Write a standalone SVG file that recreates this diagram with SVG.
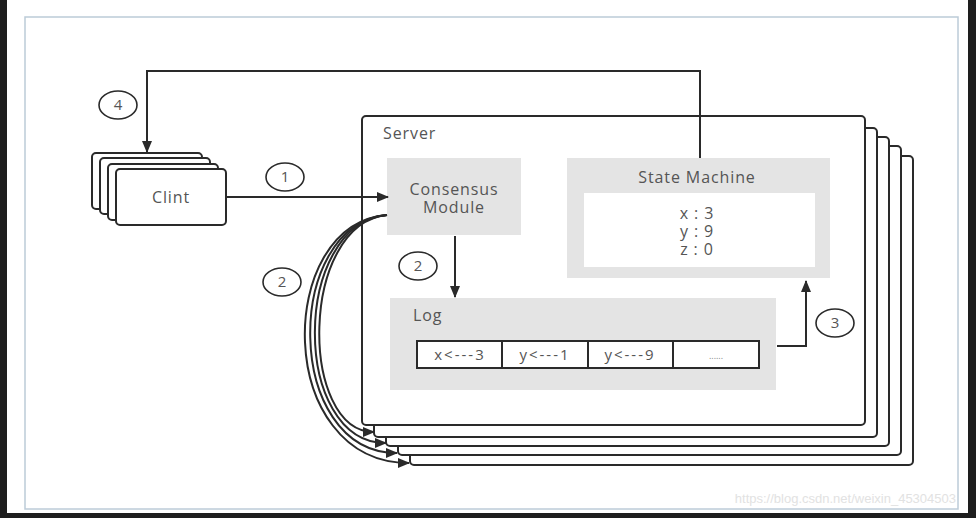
<svg xmlns="http://www.w3.org/2000/svg" width="976" height="518" viewBox="0 0 976 518">
<style>
.ln{fill:none;stroke:#2a2a2a;stroke-width:2}
.box{fill:#fff;stroke:#2a2a2a;stroke-width:2}
.gray{fill:#e4e4e4}
.t{font-family:"Open Sans","Noto Sans","Liberation Sans",sans-serif;font-size:16px;letter-spacing:0.9px;fill:#555}
.c{text-anchor:middle}
.cell{font-family:"Open Sans","Noto Sans","Liberation Sans",sans-serif;font-size:15px;letter-spacing:2px;fill:#555;text-anchor:middle}
.num{font-family:"Open Sans","Noto Sans","Liberation Sans",sans-serif;font-size:15px;fill:#555;text-anchor:middle}
.circ{fill:#fff;stroke:#2a2a2a;stroke-width:1.6}
</style>
<defs>
<marker id="ah" viewBox="0 0 12 10" refX="11" refY="5" markerWidth="12" markerHeight="10" markerUnits="userSpaceOnUse" orient="auto">
<path d="M0,0 L12,5 L0,10 Z" fill="#2a2a2a"/>
</marker>
</defs>
<rect width="976" height="518" fill="#1e1e1e"/>
<rect x="7" y="0" width="961" height="513" fill="#fff"/>
<rect x="25" y="17" width="933" height="492" fill="#fff" stroke="#bccbd8" stroke-width="1.5"/>

<g id="server">
<rect class="box" x="410" y="156" width="503" height="309" rx="4"/>
<rect class="box" x="398" y="146" width="503" height="309" rx="4"/>
<rect class="box" x="386" y="137" width="503" height="309" rx="4"/>
<rect class="box" x="374" y="128" width="503" height="309" rx="4"/>
<rect class="box" x="362" y="116" width="503" height="309" rx="4"/>
<text class="t" x="383" y="139">Server</text>
</g>

<g id="client">
<rect class="box" x="92" y="153" width="110" height="56" rx="4"/>
<rect class="box" x="100" y="158" width="110" height="56" rx="4"/>
<rect class="box" x="108" y="164" width="110" height="56" rx="4"/>
<rect class="box" x="116" y="169" width="110" height="56" rx="4"/>
<text class="t c" x="171" y="203">Clint</text>
</g>

<g id="consensus">
<rect class="gray" x="387" y="158" width="134" height="77"/>
<text class="t c" x="454" y="195">Consensus</text>
<text class="t c" x="454" y="213">Module</text>
</g>

<g id="statemachine">
<rect class="gray" x="567" y="158" width="263" height="120"/>
<text class="t c" x="697" y="183">State Machine</text>
<rect x="584" y="193" width="231" height="74" fill="#fff"/>
<text class="t c" x="697" y="219">x : 3</text>
<text class="t c" x="697" y="237">y : 9</text>
<text class="t c" x="697" y="255">z : 0</text>
</g>

<g id="log">
<rect class="gray" x="390" y="298" width="386" height="92"/>
<text class="t" x="413" y="321">Log</text>
<rect x="417" y="341" width="342" height="27" fill="#fff" stroke="#2a2a2a" stroke-width="2"/>
<line class="ln" x1="502" y1="341" x2="502" y2="368"/>
<line class="ln" x1="588" y1="341" x2="588" y2="368"/>
<line class="ln" x1="673" y1="341" x2="673" y2="368"/>
<text class="cell" x="460" y="360">x&lt;---3</text>
<text class="cell" x="545" y="360">y&lt;---1</text>
<text class="cell" x="630" y="360">y&lt;---9</text>
<text class="c" x="716" y="359" font-family="Open Sans, sans-serif" font-size="9" fill="#888">......</text>
</g>

<g id="connectors">
<path class="ln" d="M226,197 H388" marker-end="url(#ah)"/>
<path class="ln" d="M455,236 V297" marker-end="url(#ah)"/>
<path class="ln" d="M777,346 H806 V281" marker-end="url(#ah)"/>
<path class="ln" d="M700,158 V71 H147 V152" marker-end="url(#ah)"/>
<path class="ln" d="M387,215 C299,224 299,432 374,432" marker-end="url(#ah)"/>
<path class="ln" d="M387,215 C291,224 291,443 386,443" marker-end="url(#ah)"/>
<path class="ln" d="M387,215 C283,224 283,453 397,453" marker-end="url(#ah)"/>
<path class="ln" d="M387,215 C274,224 274,463 409,463" marker-end="url(#ah)"/>
</g>

<g id="labels">
<ellipse class="circ" cx="118" cy="105" rx="19" ry="14"/>
<text class="num" x="118" y="110">4</text>
<ellipse class="circ" cx="285" cy="177" rx="19" ry="14"/>
<text class="num" x="285" y="182">1</text>
<ellipse class="circ" cx="418" cy="266" rx="19" ry="14"/>
<text class="num" x="418" y="271">2</text>
<ellipse class="circ" cx="282" cy="282" rx="19" ry="14"/>
<text class="num" x="282" y="287">2</text>
<ellipse class="circ" cx="835" cy="323" rx="19" ry="14"/>
<text class="num" x="835" y="328">3</text>
</g>

<text x="956" y="503" text-anchor="end" font-family="Liberation Sans, Arial, sans-serif" font-size="13" fill="#e2e2e2">https://blog.csdn.net/weixin_45304503</text>
</svg>
